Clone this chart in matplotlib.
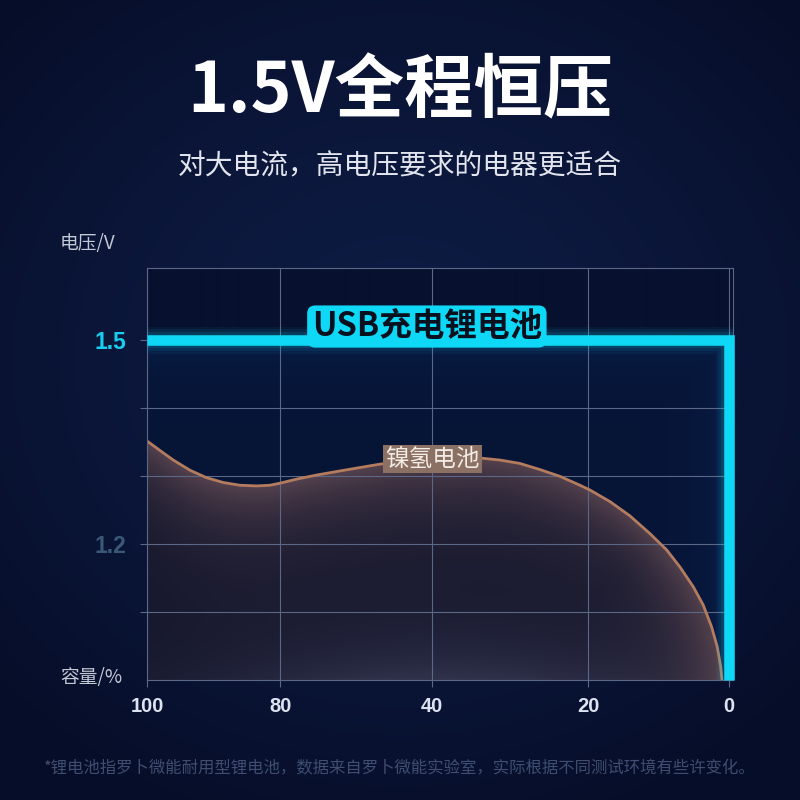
import numpy as np
import matplotlib
matplotlib.use('Agg')
import matplotlib.pyplot as plt
from matplotlib.patches import Polygon

CJK = ['Noto Sans CJK SC', 'DejaVu Sans']
NUM = ['Liberation Sans Narrow', 'Liberation Sans', 'DejaVu Sans']

CYAN = '#0fd8f6'
GRID = '#5b6787'

# data
CAP_TICKS = [100, 80, 40, 20, 0]
V_TICKS = [1.1, 1.2, 1.3, 1.4, 1.5]
V_LABELS = ['', '1.2', '', '', '1.5']

LI_CAP = [100, 0, 0]
LI_V = [1.5, 1.5, 1.0]

NIMH_CAP = [100.0, 98.05, 96.06, 93.55, 91.05, 88.56, 86.06, 83.55, 81.56, 80.06,
            75.69, 70.40, 64.23, 58.94, 53.65, 47.04, 40.16, 37.02, 33.83, 31.28,
            28.73, 26.18, 23.63, 21.08, 19.79, 16.93, 14.08, 11.23, 8.84, 6.95,
            5.05, 3.62, 2.43, 1.63, 1.14, 0.96]
NIMH_V = [1.351, 1.337, 1.323, 1.308, 1.297, 1.290, 1.286, 1.285, 1.286, 1.289,
          1.295, 1.301, 1.307, 1.312, 1.317, 1.321, 1.324, 1.325, 1.326, 1.323,
          1.318, 1.309, 1.299, 1.286, 1.279, 1.262, 1.241, 1.215, 1.191, 1.166,
          1.137, 1.110, 1.078, 1.049, 1.020, 1.001]

# the capacity axis of the picture is not uniform: pixel distance of each tick from the "0" tick
CAP_A = np.array([0, 20, 40, 80, 100], float)
DIST_A = np.array([0, 140.2, 297.1, 448.3, 581.7])


def fwd(c):
    c = np.asarray(c, float)
    d = np.interp(c, CAP_A, DIST_A)
    d = np.where(c < 0, c * DIST_A[1] / CAP_A[1], d)
    d = np.where(c > 100, DIST_A[-1] + (c - 100) * (DIST_A[-1] - DIST_A[-2]) / 20, d)
    return d


def inv(d):
    d = np.asarray(d, float)
    c = np.interp(d, DIST_A, CAP_A)
    c = np.where(d < 0, d * CAP_A[1] / DIST_A[1], c)
    c = np.where(d > DIST_A[-1], 100 + (d - DIST_A[-1]) * 20 / (DIST_A[-1] - DIST_A[-2]), c)
    return c


def hexrgb(h):
    h = h.lstrip('#')
    return np.array([int(h[i:i + 2], 16) for i in (0, 2, 4)]) / 255.0


def mix(a, b, w):
    return a * (1 - w[..., None]) + b * w[..., None]


fig = plt.figure(figsize=(8, 8), dpi=100)

# page background
bg = fig.add_axes([0, 0, 1, 1], zorder=-5)
bg.axis('off')
yy, xx = np.mgrid[0:800, 0:800]
r = np.clip(np.hypot((xx - 400) / 560, (yy - 360) / 500), 0, 1) ** 1.4
bg.imshow(mix(hexrgb('#0e1c44'), hexrgb('#060d28'), r), extent=(0, 1, 0, 1), aspect='auto')
bg.set_xlim(0, 1)
bg.set_ylim(0, 1)

W_PX, H_PX = 585.5, 412
YMIN, YMAX = 1.0, 1.605
ax = fig.add_axes([147 / 800, 120 / 800, W_PX / 800, H_PX / 800])
ax.set_facecolor('none')
ax.set_xscale('function', functions=(fwd, inv))

# plot area shading (pixel grid of the axes)
nx, ny = int(W_PX), H_PX
px = np.arange(nx) + 0.5
py = H_PX - (np.arange(ny) + 0.5)
PX, PY = np.meshgrid(px, py)
cyan_x = DIST_A[-1] - fwd(0)
cyan_y = (1.5 - YMIN) / (YMAX - YMIN) * H_PX
inside = (PX < cyan_x) & (PY < cyan_y)
dist = np.minimum(cyan_y - PY, cyan_x - PX)
plot_bg = mix(hexrgb('#061436'), hexrgb('#0b2350'), 0.65 * np.exp(-np.clip(dist, 0, None) / 30))
plot_bg[~inside] = hexrgb('#07112f')
ax.imshow(plot_bg, extent=(0, 1, 0, 1), transform=ax.transAxes, aspect='auto', zorder=0.1)

# gradient fill under the NiMH curve
cx = DIST_A[-1] - fwd(NIMH_CAP)
cy = (np.array(NIMH_V) - YMIN) / (YMAX - YMIN) * H_PX
dv = np.interp(px, cx, cy)[None, :] - PY
k = int(np.argmax(cy))
xd, yd = cx[k:][::-1], cy[k:][::-1]
dh = np.interp(PY, yd, xd) - PX
dh = np.where((dh > 0) & (PY <= yd.max()), dh, 1e4)
d = np.clip(np.minimum(dv, dh), 0, None)
fill = np.tile(hexrgb('#15172d'), (ny, nx, 1))
w_bot = 0.75 * np.exp(-PY / 45) * np.exp(-((PX - 300) / 230) ** 2)
fill = mix(fill, hexrgb('#3a3c56'), w_bot)
fill = mix(fill, hexrgb('#604953'), 0.85 * np.exp(-d / 45))

verts = list(zip(NIMH_CAP, NIMH_V)) + [(NIMH_CAP[-1], YMIN), (100, YMIN)]
poly = Polygon(verts, closed=True, fc='none', ec='none', transform=ax.transData)
ax.add_patch(poly)
fim = ax.imshow(fill, extent=(0, 1, 0, 1), transform=ax.transAxes, aspect='auto',
                zorder=0.3, interpolation='bilinear')
fim.set_clip_path(poly)

ax.plot(NIMH_CAP, NIMH_V, color='#b47c5f', lw=2.0, zorder=2, solid_capstyle='round',
        solid_joinstyle='round')

# lithium line with a soft glow
for extra, a in [(12, 0.05), (8, 0.07), (4, 0.12)]:
    ax.plot(LI_CAP, LI_V, color=CYAN, lw=7.6 + extra, alpha=a, zorder=2.8,
            solid_joinstyle='miter', solid_capstyle='butt', clip_on=True)
ax.plot(LI_CAP, LI_V, color=CYAN, lw=7.6, zorder=3, solid_joinstyle='miter',
        solid_capstyle='butt', clip_on=False)

ax.set_xlim(100, -0.55)
ax.set_ylim(YMIN, YMAX)
ax.set_xticks(CAP_TICKS)
ax.set_xticklabels([str(c) for c in CAP_TICKS])
ax.set_yticks(V_TICKS)
ax.set_yticklabels(V_LABELS)
ax.minorticks_off()
ax.grid(True, color=GRID, lw=0.8, zorder=0.5)
ax.set_axisbelow(True)
for s in ax.spines.values():
    s.set_color(GRID)
    s.set_linewidth(0.8)
ax.tick_params(axis='both', length=5, width=0.8, color=GRID, direction='out')
ax.tick_params(axis='x', pad=7)
ax.tick_params(axis='y', pad=10)
for t in ax.get_xticklabels():
    t.set_fontfamily(NUM)
    t.set_fontsize(14.5)
    t.set_fontweight('bold')
    t.set_color('#dce2ef')
ylab_colors = {'1.5': '#18cdef', '1.2': '#3b5878'}
for t in ax.get_yticklabels():
    t.set_fontfamily(NUM)
    t.set_fontsize(16.5)
    t.set_fontweight('bold')
    t.set_color(ylab_colors.get(t.get_text(), '#ffffff'))

ax.text(0.478, 0.858, 'USB充电锂电池', transform=ax.transAxes, ha='center', va='center',
        fontsize=23.5, fontweight='bold', color='#07101f', family=CJK, zorder=5,
        bbox=dict(boxstyle='round,pad=0.14,rounding_size=0.25', fc=CYAN, ec='none'))
ax.text(0.487, 0.536, '镍氢电池', transform=ax.transAxes, ha='center', va='center',
        fontsize=17, color='#f3ebe6', family=CJK, zorder=5,
        bbox=dict(boxstyle='square,pad=0.1', fc='#8b7064', ec='none'))

fig.text(0.5, 1 - 92 / 800, '1.5V全程恒压', ha='center', va='center', fontsize=50,
         fontweight='bold', color='white', family=CJK)
fig.text(0.5, 1 - 166 / 800, '对大电流，高电压要求的电器更适合', ha='center', va='center',
         fontsize=20, color='#e2e5ee', family=CJK)
fig.text(60 / 800, 1 - 243.5 / 800, '电压/V', ha='left', va='center', fontsize=13.5,
         color='#c3c8d5', family=CJK)
fig.text(60 / 800, 1 - 677 / 800, '容量/%', ha='left', va='center', fontsize=13.5,
         color='#c3c8d5', family=CJK)
fig.text(0.5, 1 - 768 / 800,
         '*锂电池指罗卜微能耐用型锂电池，数据来自罗卜微能实验室，实际根据不同测试环境有些许变化。',
         ha='center', va='center', fontsize=11.8, color='#3f4d70', family=CJK)

fig.savefig('out.png', dpi=100)
